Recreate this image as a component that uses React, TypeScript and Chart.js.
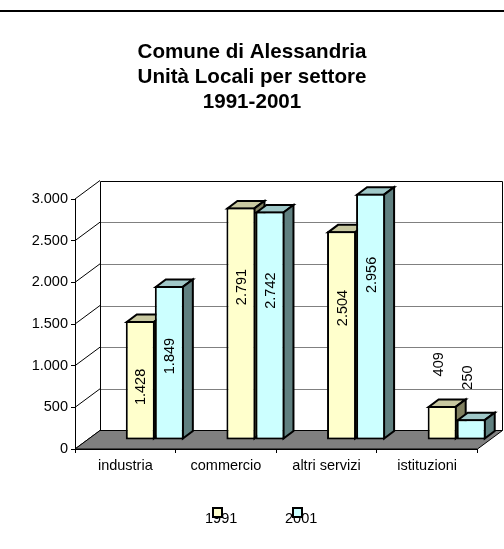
import React, { useEffect, useRef } from 'react';
import { Chart, registerables } from 'chart.js';

Chart.register(...registerables);

// ---- data ----
const categories = ['industria', 'commercio', 'altri servizi', 'istituzioni'];
const series1991 = [1428, 2791, 2504, 409];
const series2001 = [1849, 2742, 2956, 250];
const seriesLabels = ['1991', '2001'];
const titleLines = ['Comune di Alessandria', 'Unità Locali per settore', '1991-2001'];
const yTicks = [0, 500, 1000, 1500, 2000, 2500, 3000];

// ---- styles ----
const FRONT_COLORS = ['#FFFFCC', '#CCFFFF'];
const TOP_COLORS = ['#C8C8A0', '#A0C8C8'];
const SIDE_COLORS = ['#808060', '#608080'];
const FONT = '"Liberation Sans", Arial, sans-serif';
const FS = 14.5;

const WALL_DX = 25;
const WALL_DY = -18.5;
const BAR_TX = 29.5;
const BAR_TY = -9;
const BAR_DX = 10;
const BAR_DY = -7.5;

const fmt = (v: number) => String(Math.round(v)).replace(/\B(?=(\d{3})+(?!\d))/g, '.');

const threeD = {
  id: 'threeD',
  beforeDraw(chart: any) {
    const ctx = chart.ctx;
    const { left, right, top, bottom } = chart.chartArea;
    const ys = chart.scales.y;
    ctx.save();
    // top rule
    ctx.fillStyle = '#000';
    ctx.fillRect(0, 10, chart.width, 2);
    // back wall gridlines
    ctx.lineWidth = 1;
    ctx.strokeStyle = '#808080';
    yTicks.forEach((v) => {
      if (v === yTicks[0] || v === yTicks[yTicks.length - 1]) return;
      const py = Math.round(ys.getPixelForValue(v) + WALL_DY) + 0.5;
      ctx.beginPath();
      ctx.moveTo(left + WALL_DX, py);
      ctx.lineTo(right + WALL_DX, py);
      ctx.stroke();
    });
    // left wall diagonals
    ctx.strokeStyle = '#000';
    yTicks.forEach((v) => {
      const py = ys.getPixelForValue(v);
      ctx.beginPath();
      ctx.moveTo(left, py);
      ctx.lineTo(left + WALL_DX, py + WALL_DY);
      ctx.stroke();
    });
    // back wall outline
    const bl = Math.round(left + WALL_DX) + 0.5;
    const br = Math.round(right + WALL_DX) - 0.5;
    const bt = Math.round(top + WALL_DY) + 0.5;
    const bb = bottom + WALL_DY;
    ctx.beginPath();
    ctx.moveTo(bl, bb);
    ctx.lineTo(bl, bt);
    ctx.lineTo(br, bt);
    ctx.lineTo(br, bb);
    ctx.stroke();
    // floor
    ctx.beginPath();
    ctx.moveTo(left, bottom);
    ctx.lineTo(right, bottom);
    ctx.lineTo(right + WALL_DX, bottom + WALL_DY);
    ctx.lineTo(left + WALL_DX, bottom + WALL_DY);
    ctx.closePath();
    ctx.fillStyle = '#808080';
    ctx.fill();
    ctx.stroke();
    ctx.restore();
  },
  beforeDatasetsDraw(chart: any) {
    const ctx = chart.ctx;
    const metas = chart.data.datasets.map((_: any, d: number) => chart.getDatasetMeta(d));
    ctx.save();
    ctx.lineWidth = 2;
    ctx.strokeStyle = '#000';
    ctx.lineJoin = 'miter';
    categories.forEach((_, i) => {
      metas.forEach((meta: any, d: number) => {
        const el = meta.data[i];
        if (!el) return;
        const { x, y, base, width } = el.getProps(['x', 'y', 'base', 'width'], true);
        const L = x - width / 2 + BAR_TX + 1;
        const R = x + width / 2 + BAR_TX - 1;
        const T = Math.min(y, base) + BAR_TY + 1;
        const B = Math.max(y, base) + BAR_TY - 1;
        // top
        ctx.beginPath();
        ctx.moveTo(L, T);
        ctx.lineTo(R, T);
        ctx.lineTo(R + BAR_DX, T + BAR_DY);
        ctx.lineTo(L + BAR_DX, T + BAR_DY);
        ctx.closePath();
        ctx.fillStyle = TOP_COLORS[d];
        ctx.fill();
        ctx.stroke();
        // side
        ctx.beginPath();
        ctx.moveTo(R, T);
        ctx.lineTo(R + BAR_DX, T + BAR_DY);
        ctx.lineTo(R + BAR_DX, B + BAR_DY);
        ctx.lineTo(R, B);
        ctx.closePath();
        ctx.fillStyle = SIDE_COLORS[d];
        ctx.fill();
        ctx.stroke();
      });
    });
    ctx.restore();
    ctx.save();
    ctx.translate(BAR_TX, BAR_TY);
  },
  afterDatasetsDraw(chart: any) {
    const ctx = chart.ctx;
    ctx.restore();
    const ys = chart.scales.y;
    ctx.save();
    ctx.font = `${FS}px ${FONT}`;
    ctx.fillStyle = '#000';
    ctx.textAlign = 'center';
    ctx.textBaseline = 'middle';
    chart.data.datasets.forEach((ds: any, d: number) => {
      const meta = chart.getDatasetMeta(d);
      meta.data.forEach((el: any, i: number) => {
        const v = ds.data[i];
        const { x, y, base } = el.getProps(['x', 'y', 'base'], true);
        const label = fmt(v);
        const tw = ctx.measureText(label).width;
        const h = base - y;
        let cx: number;
        let cy: number;
        if (h < tw + 20) {
          cx = x + BAR_TX - 4.5;
          cy = y + BAR_TY + BAR_DY - 22 - tw / 2;
        } else {
          cx = x + BAR_TX;
          cy = ys.getPixelForValue(0.88 * v - 620) + BAR_TY;
        }
        ctx.save();
        ctx.translate(cx, cy);
        ctx.rotate(-Math.PI / 2);
        ctx.fillText(label, 0, 1);
        ctx.restore();
      });
    });
    ctx.restore();

    // legend
    ctx.save();
    ctx.font = `${FS}px ${FONT}`;
    ctx.textAlign = 'left';
    ctx.textBaseline = 'middle';
    chart.data.datasets.forEach((ds: any, d: number) => {
      const tx = 205 + d * 80;
      const ty = 518.5;
      ctx.fillStyle = '#000';
      ctx.fillText(ds.label, tx, ty);
      ctx.fillStyle = ds.backgroundColor;
      ctx.fillRect(tx + 8, ty - 10.5, 9, 9);
      ctx.lineWidth = 2;
      ctx.strokeStyle = '#000';
      ctx.strokeRect(tx + 8, ty - 10.5, 9, 9);
    });
    ctx.restore();
  },
};

export default function App() {
  const ref = useRef<HTMLCanvasElement | null>(null);
  useEffect(() => {
    if (!ref.current) return;
    Chart.defaults.font.family = FONT;
    const chart = new Chart(ref.current, {
      type: 'bar',
      data: {
        labels: categories,
        datasets: [
          {
            label: seriesLabels[0],
            data: series1991,
            backgroundColor: FRONT_COLORS[0],
            borderColor: '#000',
            borderWidth: 2,
            borderSkipped: false,
            clip: false as any,
          },
          {
            label: seriesLabels[1],
            data: series2001,
            backgroundColor: FRONT_COLORS[1],
            borderColor: '#000',
            borderWidth: 2,
            borderSkipped: false,
            clip: false as any,
          },
        ],
      },
      options: {
        responsive: false,
        animation: false,
        devicePixelRatio: 1,
        layout: { padding: { left: 0, right: 0, top: 0, bottom: 60 } },
        datasets: { bar: { categoryPercentage: 0.577, barPercentage: 1 } },
        plugins: {
          legend: { display: false },
          tooltip: { enabled: false },
          title: {
            display: true,
            text: titleLines,
            color: '#000',
            font: { size: 20.6, weight: 'bold', family: FONT, lineHeight: 1.2136 },
            padding: { top: 39.5, bottom: 84.5 },
          },
        },
        scales: {
          x: {
            type: 'category',
            offset: true,
            grid: { offset: true, drawOnChartArea: false, color: '#000', tickLength: 4 },
            border: { color: '#000', width: 1 },
            ticks: { color: '#000', font: { size: FS, family: FONT }, padding: 4, maxRotation: 0, autoSkip: false },
            afterFit: (s: any) => {
              s.height = 40;
            },
          },
          y: {
            min: 0,
            max: 3000,
            afterBuildTicks: (s: any) => {
              s.ticks = yTicks.map((v) => ({ value: v }));
            },
            ticks: { color: '#000', font: { size: FS, family: FONT }, padding: 3, callback: (v: any) => fmt(Number(v)) },
            grid: { drawOnChartArea: false, color: '#000', tickLength: 4 },
            border: { color: '#000', width: 1 },
            afterFit: (s: any) => {
              s.width = 75;
            },
          },
          yRight: {
            position: 'right',
            display: true,
            min: 0,
            max: 3000,
            ticks: { display: false },
            grid: { display: false },
            border: { display: false },
            afterFit: (s: any) => {
              s.width = 26.5;
            },
          },
        },
      } as any,
      plugins: [threeD],
    });
    return () => chart.destroy();
  }, []);
  return (
    <div style={{ position: 'absolute', left: 0, top: 0, width: 504, height: 549, background: '#fff' }}>
      <canvas ref={ref} width={504} height={549} />
    </div>
  );
}
